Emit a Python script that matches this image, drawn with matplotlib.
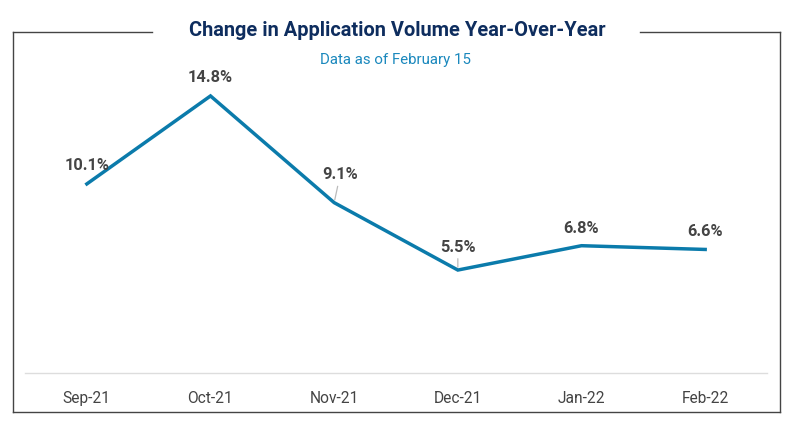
import matplotlib.pyplot as plt
from matplotlib.lines import Line2D

months = ['Sep-21', 'Oct-21', 'Nov-21', 'Dec-21', 'Jan-22', 'Feb-22']
yoy_change = [10.1, 14.8, 9.1, 5.5, 6.8, 6.6]
# label offsets in pixels (dx, dy) and whether a leader line is drawn
label_offsets = [(0, 18), (0, 18), (6, 28), (0, 23), (0, 17), (0, 18)]
leaders = [False, False, True, True, False, False]

plt.rcParams['font.family'] = ['Roboto', 'DejaVu Sans']

W, H = 797, 424
fig = plt.figure(figsize=(W / 100, H / 100), dpi=100)
ax = fig.add_axes([25 / W, (H - 373) / H, (767 - 25) / W, (373 - 40) / H])

x = list(range(len(months)))
ax.plot(x, yoy_change, color='#0b7bab', lw=2.5, solid_joinstyle='miter')

for xi, val, (dx, dy), lead in zip(x, yoy_change, label_offsets, leaders):
    props = None
    if lead:
        props = dict(arrowstyle='-', color='#bbbbbb', lw=0.9, shrinkA=1, shrinkB=2)
    ax.annotate(f'{val}%', (xi, val), xytext=(dx, dy), textcoords='offset pixels',
                ha='center', va='center', fontsize=11.8, fontweight='bold',
                color='#444444', arrowprops=props)

ax.set_xlim(-0.5, 5.5)
ax.set_ylim(0, (373 - 40) / 18.72)
ax.set_xticks(x)
ax.set_xticklabels(months, fontsize=11.2, color='#444444')
ax.tick_params(axis='x', length=0, pad=13)
ax.set_yticks([])
for side in ['top', 'right', 'left']:
    ax.spines[side].set_visible(False)
ax.spines['bottom'].set_color('#dddddd')
ax.spines['bottom'].set_linewidth(1)

# outer frame with a gap for the title
def fx(px):
    return px / W

def fy(py):
    return 1 - py / H

frame = '#444444'
segs = [
    ([13, 152], [32, 32]),
    ([640, 780], [32, 32]),
    ([13, 13], [32, 412]),
    ([780, 780], [32, 412]),
    ([13, 780], [412, 412]),
]
for xs, ys in segs:
    fig.add_artist(Line2D([fx(v) for v in xs], [fy(v) for v in ys],
                          color=frame, lw=1, transform=fig.transFigure))

fig.text(fx(397), fy(30), 'Change in Application Volume Year-Over-Year',
         ha='center', va='center', fontsize=14.4, fontweight='bold', color='#0e2d5e')
fig.text(fx(396), fy(60), 'Data as of February 15', ha='center', va='center',
         fontsize=10.8, color='#1a88bd')

fig.savefig('out.png', dpi=100)
